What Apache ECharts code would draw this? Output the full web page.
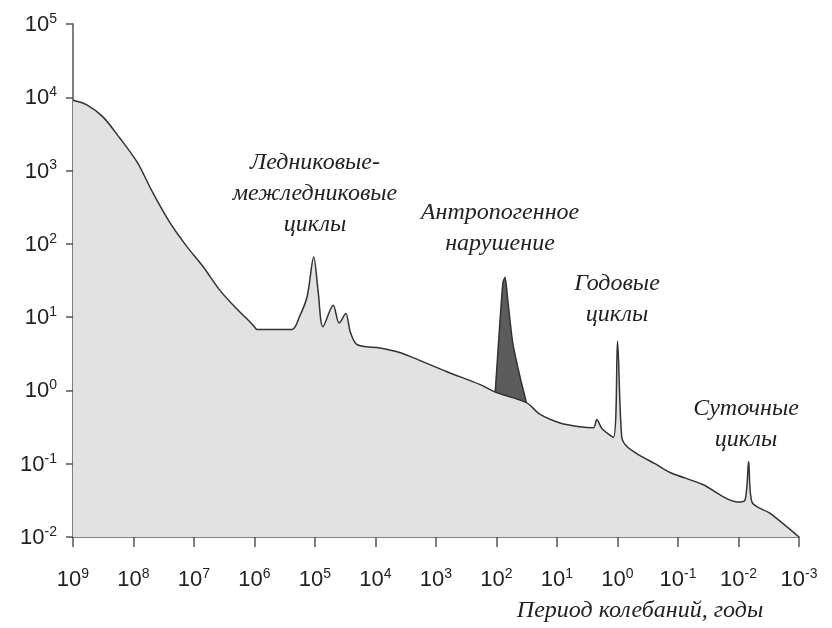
<!DOCTYPE html>
<html><head><meta charset="utf-8">
<script src="https://cdn.jsdelivr.net/npm/echarts@6/dist/echarts.min.js"></script>
<style>html,body{margin:0;padding:0;background:#fff}#c{width:832px;height:628px}</style>
</head><body><div id="c"></div>
<script>
// Main spectrum (period in years, relative variance)
const periods = [1e9, 5.9e8, 3.2e8, 1.7e8, 8.7e7, 4.8e7, 2.5e7, 1.3e7, 7.1e6, 3.7e6, 1.9e6, 1.3e6, 9.8e5, 9.1e5,
  2.4e5, 1.8e5, 1.35e5, 1.05e5, 8.9e4, 7.4e4, 5.0e4, 4.0e4, 3.1e4, 2.6e4, 2.0e4, 8.5e3, 4.0e3, 2.4e3, 660, 186, 105,
  32, 19, 8.9, 4.2, 2.5, 2.2, 1.8, 1.17, 1.0, 0.85, 0.69, 0.43, 0.24, 0.135, 0.039, 0.0105, 0.0078, 0.0068, 0.006, 0.003, 0.001];
const values = [9100, 7900, 5400, 2800, 1300, 500, 195, 91, 49, 23, 12.6, 9.3, 7.2, 6.8,
  6.8, 10.2, 19, 66, 23, 7.4, 14.5, 8.3, 11.2, 6.2, 4.2, 3.8, 3.3, 2.8, 1.8, 1.2, 0.95,
  0.68, 0.47, 0.36, 0.32, 0.31, 0.40, 0.30, 0.23, 4.7, 0.23, 0.17, 0.13, 0.10, 0.076, 0.052, 0.030, 0.032, 0.107, 0.030, 0.021, 0.01];
// Anthropogenic disturbance peak
const anthPeriods = [105, 85, 78, 72, 65, 54, 41, 32];
const anthValues = [0.95, 12.6, 30, 35, 17, 4.5, 1.55, 0.68];
// Axis tick exponents
const xExp = [9, 8, 7, 6, 5, 4, 3, 2, 1, 0, -1, -2, -3];
const yExp = [-2, -1, 0, 1, 2, 3, 4, 5];
const annotations = [
  {lines: ['Ледниковые-', 'межледниковые', 'циклы'], x: 315, y: 163},
  {lines: ['Антропогенное', 'нарушение'], x: 500, y: 213},
  {lines: ['Годовые', 'циклы'], x: 617, y: 284},
  {lines: ['Суточные', 'циклы'], x: 746, y: 409}
];
const xName = 'Период колебаний, годы';

const mainData = periods.map((p, i) => [p, values[i]]);
const anthData = anthPeriods.map((p, i) => [p, anthValues[i]]);

const numFont = '"Liberation Sans",Arial,sans-serif';
const serif = '"Liberation Serif","DejaVu Serif",serif';
const fmt = v => '{b|10}{s|' + Math.round(Math.log10(v)) + '}';
const rich = {
  b: {fontFamily: numFont, fontSize: 22, color: '#222', lineHeight: 24, verticalAlign: 'bottom'},
  s: {fontFamily: numFont, fontSize: 14, color: '#222', lineHeight: 24, verticalAlign: 'top', padding: [0, 0, 10, 0]}
};

const graphics = [];
annotations.forEach(a => {
  a.lines.forEach((t, k) => {
    graphics.push({type: 'text', x: a.x, y: a.y + k * 31, z: 10,
      style: {text: t, fontFamily: serif, fontStyle: 'italic', fontSize: 24, fill: '#222', align: 'center', verticalAlign: 'middle'}});
  });
});
graphics.push({type: 'text', x: 640, y: 611, z: 10,
  style: {text: xName, fontFamily: serif, fontStyle: 'italic', fontSize: 24, fill: '#222', align: 'center', verticalAlign: 'middle'}});

const chart = echarts.init(document.getElementById('c'), null, {renderer: 'canvas'});
chart.setOption({
  animation: false,
  backgroundColor: '#fff',
  grid: {left: 73, right: 33, top: 24, bottom: 91, containLabel: false},
  xAxis: {
    type: 'log', logBase: 10, inverse: true,
    min: Math.pow(10, xExp[xExp.length - 1]), max: Math.pow(10, xExp[0]), interval: 1,
    axisLine: {onZero: false, lineStyle: {color: '#555', width: 1.5}},
    axisTick: {show: true, length: 10, lineStyle: {color: '#555', width: 1.5}},
    minorTick: {show: false},
    splitLine: {show: false},
    axisLabel: {margin: 30, formatter: fmt, rich: rich}
  },
  yAxis: {
    type: 'log', logBase: 10,
    min: Math.pow(10, yExp[0]), max: Math.pow(10, yExp[yExp.length - 1]), interval: 1,
    axisLine: {show: true, onZero: false, lineStyle: {color: '#555', width: 1.5}},
    axisTick: {show: true, length: 7, lineStyle: {color: '#555', width: 1.5}},
    splitLine: {show: false},
    axisLabel: {margin: 16, formatter: fmt, rich: rich}
  },
  series: [
    {type: 'line', data: anthData, symbol: 'none', smooth: 0.2, z: 2,
      lineStyle: {color: '#333', width: 1.5}, areaStyle: {color: '#5c5c5c', opacity: 1}},
    {type: 'line', data: mainData, symbol: 'none', smooth: 0.3, z: 3,
      lineStyle: {color: '#333', width: 1.5}, areaStyle: {color: '#e2e2e2', opacity: 1}}
  ],
  graphic: graphics
});
</script></body></html>
